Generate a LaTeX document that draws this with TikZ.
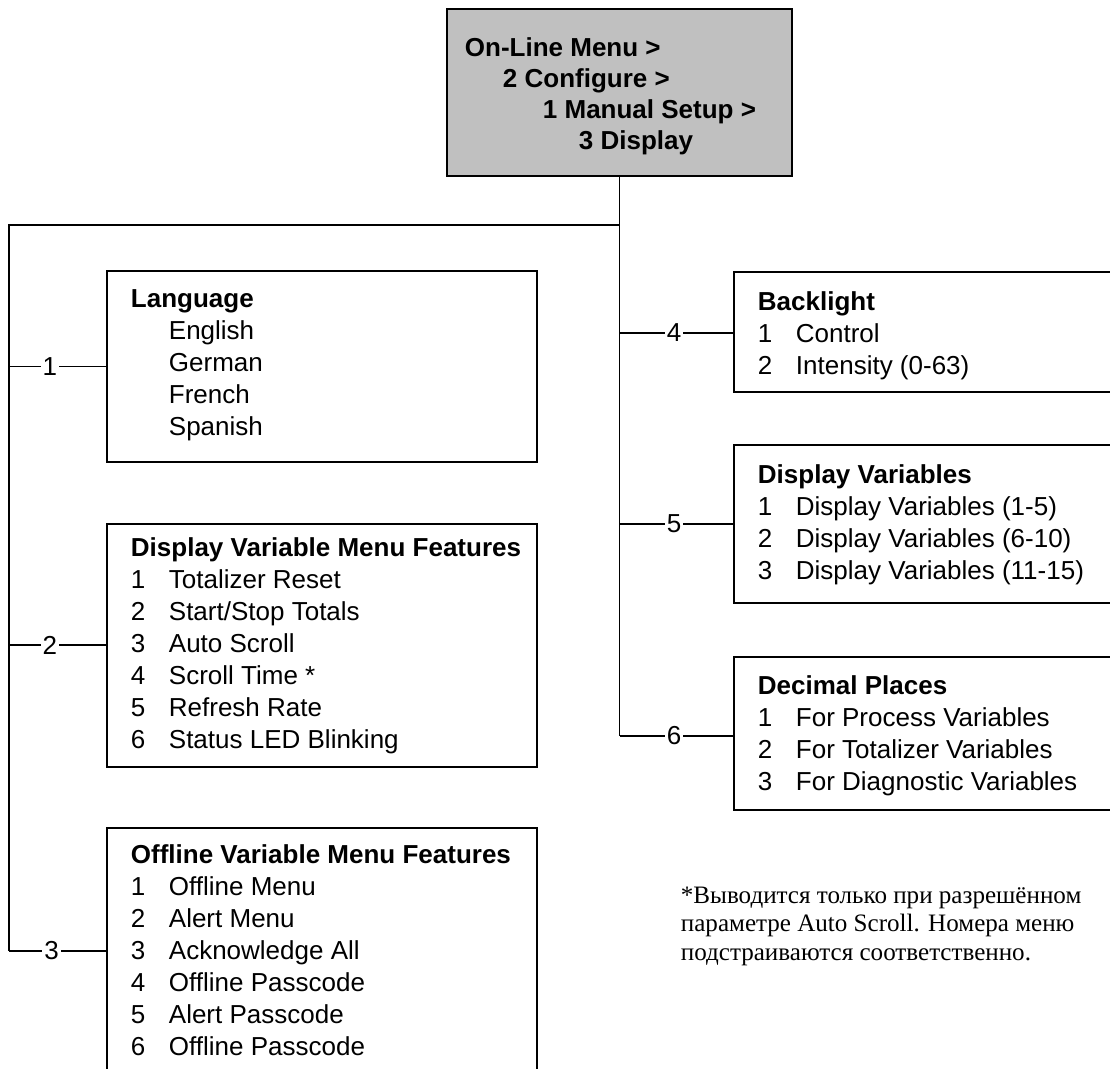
\documentclass[tikz,border=0pt]{standalone}
\usepackage{fontspec}
\setmainfont{Liberation Sans}
\newfontfamily\notefont{Liberation Serif}
\usetikzlibrary{fit}
\definecolor{menugray}{HTML}{C0C0C0}
\newcommand{\mitem}[2]{\makebox[28.5pt][l]{#1}#2}
\tikzset{
  menubox/.style={draw, line width=1.4pt, inner sep=0pt},
  menutext/.style={anchor=north west, align=left, inner sep=0pt,
    font=\fontsize{19.5}{24}\selectfont},
  branch/.style={fill=white, inner sep=1.5pt, font=\fontsize{19.5}{24}\selectfont},
}

\begin{document}
\begin{tikzpicture}[x=0.75pt, y=-0.75pt, line width=1.4pt]
  \useasboundingbox (0,0) rectangle (1110,1068);
  % boxes
  \node[menubox, fill=menugray, fit={(447,9) (792,176)}] (top) {};
  \node[menubox, fit={(107,271) (537,462)}] (lang) {};
  \node[menubox, fit={(107,524) (537,767)}] (dvm) {};
  \node[menubox, fit={(107,828) (537,1100)}] (off) {};
  \node[menubox, fit={(734,272) (1130,392)}] (back) {};
  \node[menubox, fit={(734,445) (1130,603)}] (dvars) {};
  \node[menubox, fit={(734,657) (1130,810)}] (dec) {};

  % tree
  \coordinate (corner) at (9,225);
  \coordinate (split) at (top.south |- corner);
  \coordinate (b1) at (corner |- lang.west);
  \coordinate (b2) at (9,645);
  \coordinate (b3) at (9,951);
  \coordinate (b4) at (split |- 0,333);
  \coordinate (b5) at (split |- 0,524);
  \coordinate (b6) at (split |- 0,736);
  \draw (top.south) -- (b6);
  \draw (split) -- (corner) -- (b3);
  \foreach \b/\n/\t/\p in {b1/1/lang/.42, b2/2/dvm/.42, b3/3/off/.44,
                           b4/4/back/.48, b5/5/dvars/.48, b6/6/dec/.48}
    \draw (\b) -- node[branch, pos=\p] {\n} (\b -| \t.west);

  % texts
  \node[menutext, font=\bfseries\fontsize{19.5}{23.3}\selectfont] (toptext)
    at (464,36.5) {On-Line Menu >\\
    \hspace*{28.5pt}2 Configure >\\
    \hspace*{58.5pt}1 Manual Setup >\\
    \hspace*{85.5pt}3 Display};
  \node[menutext] (langtext) at (130,288.5) {\textbf{Language}\\
    \hspace*{28.5pt}English\\ \hspace*{28.5pt}German\\
    \hspace*{28.5pt}French\\ \hspace*{28.5pt}Spanish};
  \node[menutext] (dvmtext) at (130,537) {\textbf{Display Variable Menu Features}\\
    \mitem{1}{Totalizer Reset}\\ \mitem{2}{Start/Stop Totals}\\
    \mitem{3}{Auto Scroll}\\ \mitem{4}{Scroll Time *}\\
    \mitem{5}{Refresh Rate}\\ \mitem{6}{Status LED Blinking}};
  \node[menutext] (offtext) at (130,843.5) {\textbf{Offline Variable Menu Features}\\
    \mitem{1}{Offline Menu}\\ \mitem{2}{Alert Menu}\\
    \mitem{3}{Acknowledge All}\\ \mitem{4}{Offline Passcode}\\
    \mitem{5}{Alert Passcode}\\ \mitem{6}{Offline Passcode}};
  \node[menutext] (backtext) at (757,290.5) {\textbf{Backlight}\\
    \mitem{1}{Control}\\ \mitem{2}{Intensity (0-63)}};
  \node[menutext] (dvarstext) at (757,463.5) {\textbf{Display Variables}\\
    \mitem{1}{Display Variables (1-5)}\\ \mitem{2}{Display Variables (6-10)}\\
    \mitem{3}{Display Variables (11-15)}};
  \node[menutext] (dectext) at (757,674.5) {\textbf{Decimal Places}\\
    \mitem{1}{For Process Variables}\\ \mitem{2}{For Totalizer Variables}\\
    \mitem{3}{For Diagnostic Variables}};

  % footnote
  \node[anchor=north west, align=left, inner sep=0pt,
        font=\notefont\fontsize{18.8}{21.4}\selectfont] (note) at (680,886)
    {*Выводится только при разрешённом\\
     параметре Auto Scroll. Номера меню\\
     подстраиваются соответственно.};
\end{tikzpicture}
\end{document}
